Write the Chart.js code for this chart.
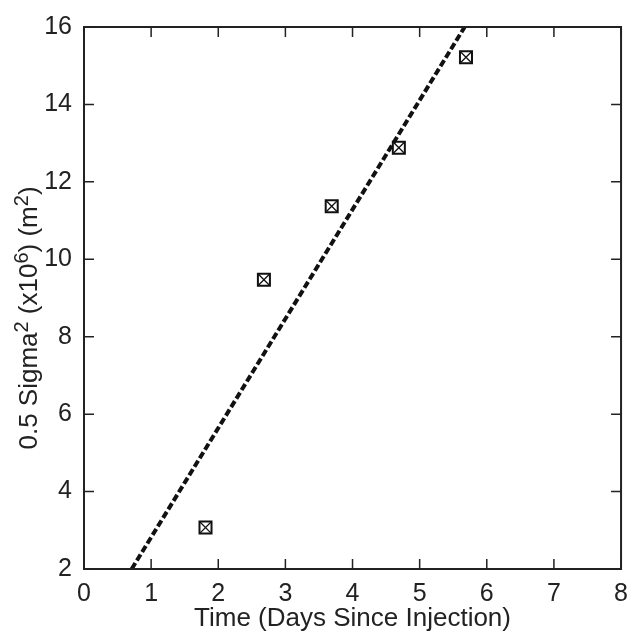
<!DOCTYPE html>
<html>
<head>
<meta charset="utf-8">
<script src="https://cdn.jsdelivr.net/npm/chart.js@4/dist/chart.umd.min.js"></script>
<style>
  html, body { margin: 0; padding: 0; background: #fff; }
  #wrap { width: 638px; height: 634px; }
</style>
</head>
<body>
<div id="wrap"><canvas id="chart"></canvas></div>
<script>
// Dados
const measuredX = [1.81, 2.68, 3.69, 4.69, 5.69];
const measuredY = [3.07, 9.47, 11.37, 12.88, 15.22];
const fitX = [0.71, 5.67];
const fitY = [2, 16];
const xTicks = [0, 1, 2, 3, 4, 5, 6, 7, 8];
const yTicks = [2, 4, 6, 8, 10, 12, 14, 16];
// título do eixo y em pedaços: [texto, sobrescrito?]
const yTitleParts = [["0.5 Sigma", false], ["2", true], [" (x10", false], ["6", true], [") (m", false], ["2", true], [")", false]];

const axisColor = "#222";
const fontFamily = "'Liberation Sans', Arial, Helvetica, sans-serif";

const toPoints = (xs, ys) => xs.map((x, i) => ({ x, y: ys[i] }));

// Moldura + marcas internas (estilo matlab)
const framePlugin = {
    id: "frame",
    afterDraw(chart) {
        const { ctx, chartArea: a, scales } = chart;
        const len = 10;
        ctx.save();
        ctx.strokeStyle = axisColor;
        ctx.lineWidth = 2;
        ctx.strokeRect(a.left, a.top, a.right - a.left, a.bottom - a.top);
        ctx.lineWidth = 1.5;
        ctx.beginPath();
        scales.x.ticks.forEach(t => {
            const px = scales.x.getPixelForValue(t.value);
            ctx.moveTo(px, a.bottom); ctx.lineTo(px, a.bottom - len);
            ctx.moveTo(px, a.top); ctx.lineTo(px, a.top + len);
        });
        scales.y.ticks.forEach(t => {
            const py = scales.y.getPixelForValue(t.value);
            ctx.moveTo(a.left, py); ctx.lineTo(a.left + len, py);
            ctx.moveTo(a.right, py); ctx.lineTo(a.right - len, py);
        });
        ctx.stroke();

        // título y com sobrescritos
        const size = 26, supSize = 20;
        const fontOf = sup => `${sup ? supSize : size}px ${fontFamily}`;
        let total = 0;
        yTitleParts.forEach(([txt, sup]) => { ctx.font = fontOf(sup); total += ctx.measureText(txt).width; });
        ctx.translate(28, 318);
        ctx.rotate(-Math.PI / 2);
        ctx.fillStyle = axisColor;
        ctx.textBaseline = "alphabetic";
        let x = -total / 2;
        yTitleParts.forEach(([txt, sup]) => {
            ctx.font = fontOf(sup);
            ctx.fillText(txt, x, sup ? 0 : 9);
            x += ctx.measureText(txt).width;
        });
        ctx.restore();
    }
};

new Chart(document.getElementById("chart"), {
    type: "scatter",
    data: {
        datasets: [
            {
                label: "fit",
                type: "line",
                data: toPoints(fitX, fitY),
                borderColor: "#111",
                borderWidth: 4,
                borderDash: [7, 3],
                pointRadius: 0,
                fill: false
            },
            {
                label: "box",
                data: toPoints(measuredX, measuredY),
                pointStyle: "rect",
                pointRadius: 8.5,
                borderColor: "#111",
                backgroundColor: "rgba(0,0,0,0)",
                borderWidth: 2
            },
            {
                label: "cross",
                data: toPoints(measuredX, measuredY),
                pointStyle: "crossRot",
                pointRadius: 8.5,
                borderColor: "#111",
                borderWidth: 1.3
            }
        ]
    },
    options: {
        responsive: true,
        maintainAspectRatio: false,
        animation: false,
        layout: { padding: { top: 24, right: 9, left: 0, bottom: 0 } },
        plugins: {
            legend: { display: false },
            tooltip: { enabled: false }
        },
        scales: {
            x: {
                type: "linear",
                min: 0,
                max: 8,
                afterBuildTicks: s => { s.ticks = xTicks.map(v => ({ value: v })); },
                afterFit: s => { s.height = 65; },
                grid: { display: false, drawTicks: false },
                border: { display: false },
                ticks: {
                    padding: 10,
                    color: axisColor,
                    font: { family: fontFamily, size: 25 },
                    maxRotation: 0
                },
                title: {
                    display: true,
                    text: "Time (Days Since Injection)",
                    color: axisColor,
                    font: { family: fontFamily, size: 26 },
                    padding: { top: 0, bottom: 0 }
                }
            },
            y: {
                type: "linear",
                min: 2,
                max: 16,
                afterBuildTicks: s => { s.ticks = yTicks.map(v => ({ value: v })); },
                afterFit: s => { s.width = 84; },
                grid: { display: false, drawTicks: false },
                border: { display: false },
                ticks: {
                    padding: 12,
                    color: axisColor,
                    font: { family: fontFamily, size: 25 }
                },
                title: { display: false }
            }
        }
    },
    plugins: [framePlugin]
});
</script>
</body>
</html>
